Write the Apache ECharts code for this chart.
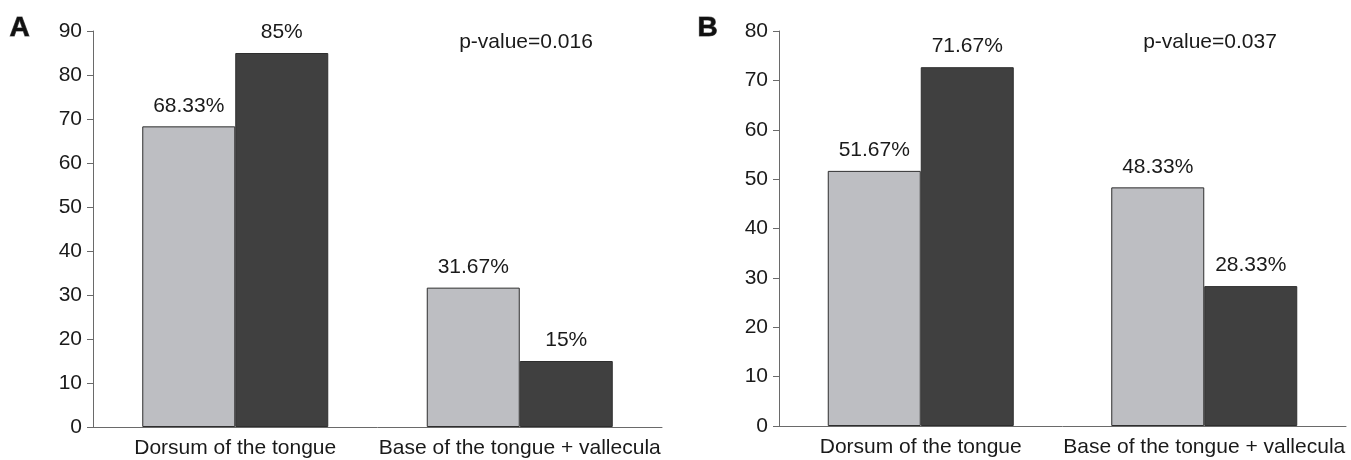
<!DOCTYPE html>
<html>
<head>
<meta charset="utf-8">
<script src="https://cdn.jsdelivr.net/npm/echarts@6/dist/echarts.min.js"></script>
<style>
html,body{margin:0;padding:0;background:#fff;}
#chart{width:1351px;height:460px;}
</style>
</head>
<body>
<div id="chart"></div>
<script>
var categories = ['Dorsum of the tongue', 'Base of the tongue + vallecula'];
// bar heights as drawn in the picture
var panelALight = [68.33, 31.67];
var panelADark = [85, 15];
var panelBLight = [51.67, 48.33];
var panelBDark = [72.67, 28.33];
// value labels as printed above the bars
var labelsALight = ['68.33%', '31.67%'];
var labelsADark = ['85%', '15%'];
var labelsBLight = ['51.67%', '48.33%'];
var labelsBDark = ['71.67%', '28.33%'];
var pValueA = 'p-value=0.016';
var pValueB = 'p-value=0.037';
var yTicksA = [0, 10, 20, 30, 40, 50, 60, 70, 80, 90];
var yTicksB = [0, 10, 20, 30, 40, 50, 60, 70, 80];

var FONT = "'Liberation Sans', Arial, Helvetica, sans-serif";
var FS = 21;
var TXT = '#1a1a1a';
var AXIS = '#6a6a6a';
var LIGHT = '#bdbec2';
var DARK = '#404040';

function xAxisDef(gi) {
  return {
    type: 'category', gridIndex: gi, data: categories,
    axisLine: {lineStyle: {color: AXIS, width: 1}},
    axisTick: {show: false},
    axisLabel: {color: TXT, fontSize: FS, fontFamily: FONT, margin: 11, interval: 0, hideOverlap: false}
  };
}
function yAxisDef(gi, ticks) {
  return {
    type: 'value', gridIndex: gi, min: ticks[0], max: ticks[ticks.length - 1], interval: 10,
    axisLine: {show: true, lineStyle: {color: AXIS, width: 1}},
    axisTick: {show: true, length: 6, lineStyle: {color: AXIS}},
    splitLine: {show: false},
    axisLabel: {color: TXT, fontSize: FS, fontFamily: FONT, margin: 11}
  };
}
function barSeries(gi, data, texts, color) {
  return {
    type: 'bar', xAxisIndex: gi, yAxisIndex: gi, data: data,
    barWidth: 93, barGap: '0%',
    itemStyle: {color: color, borderColor: '#2e2e2e', borderWidth: 1},
    label: {show: true, position: 'top', distance: 10, color: TXT, fontSize: FS, fontFamily: FONT,
      formatter: function (p) { return texts[p.dataIndex]; }},
    silent: true
  };
}

var chart = echarts.init(document.getElementById('chart'), null, {renderer: 'canvas'});
var option = {
  backgroundColor: '#fff',
  animation: false,
  grid: [
    {left: 93, right: 689, top: 31, bottom: 33},
    {left: 779, right: 5, top: 31, bottom: 34}
  ],
  xAxis: [xAxisDef(0), xAxisDef(1)],
  yAxis: [yAxisDef(0, yTicksA), yAxisDef(1, yTicksB)],
  series: [
    barSeries(0, panelALight, labelsALight, LIGHT),
    barSeries(0, panelADark, labelsADark, DARK),
    barSeries(1, panelBLight, labelsBLight, LIGHT),
    barSeries(1, panelBDark, labelsBDark, DARK)
  ],
  graphic: [
    {type: 'text', left: 9, top: 14, style: {text: 'A', font: 'bold 28px ' + FONT, fill: '#111'}},
    {type: 'text', left: 697, top: 14, style: {text: 'B', font: 'bold 28px ' + FONT, fill: '#111'}},
    {type: 'text', x: 526, y: 42, style: {text: pValueA, font: FS + 'px ' + FONT, fill: TXT, align: 'center', verticalAlign: 'middle'}},
    {type: 'text', x: 1210, y: 42, style: {text: pValueB, font: FS + 'px ' + FONT, fill: TXT, align: 'center', verticalAlign: 'middle'}}
  ]
};
chart.setOption(option);

// extend the y-axis lines slightly below the x-axis, as in the reference
var y0a = chart.convertToPixel({yAxisIndex: 0}, 0);
var y0b = chart.convertToPixel({yAxisIndex: 1}, 0);
chart.setOption({
  graphic: [
    {type: 'line', shape: {x1: 93.5, y1: y0a, x2: 93.5, y2: y0a + 6}, style: {stroke: AXIS, lineWidth: 1}},
    {type: 'line', shape: {x1: 779.5, y1: y0b, x2: 779.5, y2: y0b + 6}, style: {stroke: AXIS, lineWidth: 1}}
  ]
});
</script>
</body>
</html>
